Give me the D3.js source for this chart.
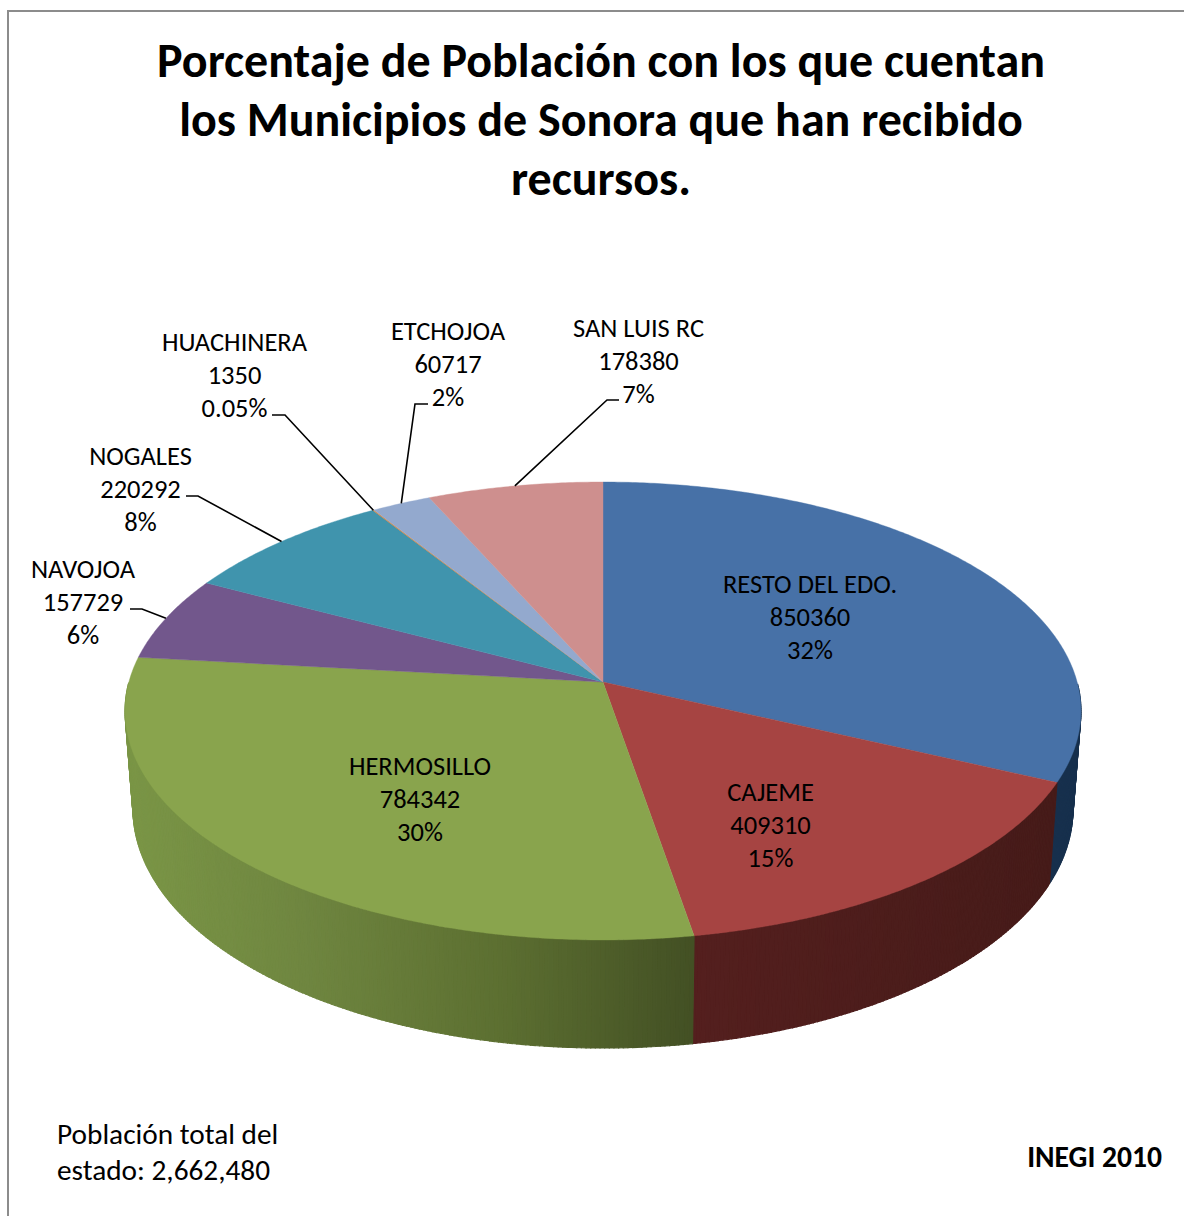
<!DOCTYPE html>
<html>
<head>
<meta charset="utf-8">
<script src="https://d3js.org/d3.v7.min.js"></script>
<style>
  html, body { margin: 0; padding: 0; background: #fff; }
  svg { display: block; }
  text { font-family: Carlito, Lato, sans-serif; fill: #000; }
</style>
</head>
<body>
<svg id="chart"></svg>
<script>
// data, clockwise from 12 o'clock
const municipios = ['RESTO DEL EDO.', 'CAJEME', 'HERMOSILLO', 'NAVOJOA', 'NOGALES', 'HUACHINERA', 'ETCHOJOA', 'SAN LUIS RC'];
const poblacion = [850360, 409310, 784342, 157729, 220292, 1350, 60717, 178380];
const porcentajes = ['32%', '15%', '30%', '6%', '8%', '0.05%', '2%', '7%'];
const colores = ['#4771a7', '#a64442', '#89a44d', '#72578c', '#4094ad', '#d9853f', '#93a9ce', '#ce8f8e'];
const titulo = ['Porcentaje de Población con los que cuentan', 'los Municipios de Sonora que han recibido', 'recursos.'];
const notaTotal = ['Población total del', 'estado: 2,662,480'];
const fuente = 'INEGI 2010';

// where each label sits (center x, first row y)
const labelPos = [[810, 593], [770.5, 801], [420, 775], [83, 578], [140.5, 465], [234.5, 351], [448, 340], [638.5, 337]];
// leader lines: label end + elbow, the slice end comes from the pie
const leaders = { 3: [[130, 609], [142, 609]], 4: [[186, 496], [198, 496]], 5: [[272, 415], [285, 415]], 6: [[428, 404], [415, 404]], 7: [[619, 400], [607, 400]] };

const width = 1184, height = 1216;
const svg = d3.select('#chart').attr('width', width).attr('height', height);

// frame, only top and left are inside the picture
svg.append('path')
    .attr('d', `M8,${height}V11H${width}`)
    .attr('fill', 'none')
    .attr('stroke', '#8c8c8c')
    .attr('stroke-width', 2);

// perspective of the disc, far side is smaller
const persp = 0.1266;
const topPlane = { cx: 603, cy: 682, a: 474.1, b: 225.3 };
const basePlane = { cx: 603, cy: 778.7, a: 466.2, b: 235.2 };

function project(angle, plane) {
    const u = Math.sin(angle), v = Math.cos(angle);
    const w = 1 + persp * v;
    return [plane.cx + plane.a * u / w, plane.cy - plane.b * v / w];
}

const pie = d3.pie().sort(null).value(d => d);
const slices = pie(poblacion);
const step = Math.PI / 360;

function anglesOf(s) {
    const list = d3.range(s.startAngle, s.endAngle, step);
    list.push(s.endAngle);
    return list;
}

// wall shades, follow screen x
const wallShade = [
    d3.scaleLinear().domain([1050, 1080]).range(['#17304d', '#17304d']),
    d3.scaleLinear().domain([693, 1050]).range(['#541f1e', '#461b19']),
    d3.scaleLinear().domain([130, 300, 500, 693]).range(['#7a9546', '#6f8640', '#5c6f31', '#435024'])
];

const wall = svg.append('g');
slices.slice(0, 3).forEach((s, i) => {
    // back half of the wall is hidden anyway
    const list = anglesOf(s).filter(a => Math.cos(a) < 0);
    for (let k = 0; k < list.length - 1; k++) {
        const t0 = project(list[k], topPlane), t1 = project(list[k + 1], topPlane);
        const b0 = project(list[k], basePlane), b1 = project(list[k + 1], basePlane);
        const c = wallShade[i]((t0[0] + t1[0]) / 2);
        wall.append('path')
            .attr('d', d3.line()([t0, t1, b1, b0]) + 'Z')
            .attr('fill', c)
            .attr('stroke', c)
            .attr('stroke-width', 1.2);
    }
});

// top face
const face = d3.line();
svg.append('g')
    .selectAll('path')
    .data(slices)
    .join('path')
    .attr('d', s => face([[topPlane.cx, topPlane.cy]].concat(anglesOf(s).map(a => project(a, topPlane)))) + 'Z')
    .attr('fill', (s, i) => colores[i])
    .attr('stroke', (s, i) => colores[i])
    .attr('stroke-width', 0.4);

// leader lines
Object.keys(leaders).forEach(k => {
    const s = slices[k];
    const end = project((s.startAngle + s.endAngle) / 2, topPlane);
    svg.append('path')
        .attr('d', d3.line()(leaders[k].concat([end])))
        .attr('fill', 'none')
        .attr('stroke', '#000')
        .attr('stroke-width', 1.6);
});

// data labels
municipios.forEach((m, i) => {
    const rows = [m, poblacion[i], porcentajes[i]];
    rows.forEach((r, j) => {
        svg.append('text')
            .attr('x', labelPos[i][0])
            .attr('y', labelPos[i][1] + j * 32.8)
            .attr('text-anchor', 'middle')
            .style('font-size', '26.5px')
            .text(r);
    });
});

// title
titulo.forEach((t, j) => {
    svg.append('text')
        .attr('x', 601)
        .attr('y', 77 + j * 59)
        .attr('text-anchor', 'middle')
        .style('font-size', '48px')
        .style('font-weight', 'bold')
        .text(t);
});

notaTotal.forEach((t, j) => {
    svg.append('text')
        .attr('x', 57)
        .attr('y', 1144 + j * 36)
        .style('font-size', '29.3px')
        .text(t);
});

svg.append('text')
    .attr('x', 1162)
    .attr('y', 1167)
    .attr('text-anchor', 'end')
    .style('font-size', '29.6px')
    .style('font-weight', 'bold')
    .text(fuente);
</script>
</body>
</html>
